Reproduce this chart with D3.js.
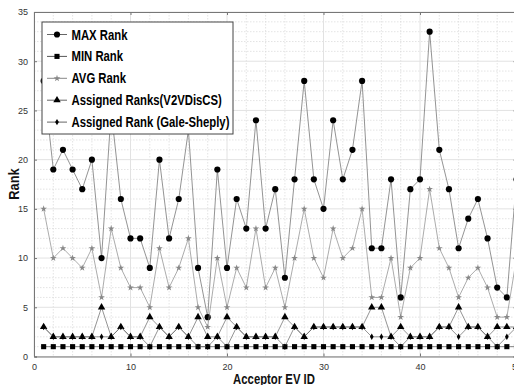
<!DOCTYPE html>
<html>
<head>
<meta charset="utf-8">
<script src="https://cdn.jsdelivr.net/npm/d3@7"></script>
<style>
  body { margin: 0; background: #fff; }
  svg { display: block; }
  .tick text { font-family: "Liberation Sans", Arial, sans-serif; font-size: 9px; fill: #333; }
</style>
</head>
<body>
<svg id="chart" width="514" height="385"></svg>
<script>
// acceptor EV ids (x axis)
const evIds = [1,2,3,4,5,6,7,8,9,10,11,12,13,14,15,16,17,18,19,20,21,22,23,24,25,
  26,27,28,29,30,31,32,33,34,35,36,37,38,39,40,41,42,43,44,45,46,47,48,49,50];

const maxRank = [28,19,21,19,17,20,10,25,16,12,12,9,20,12,16,23,9,4,19,9,16,13,24,13,17,
  8,18,28,18,15,24,18,21,28,11,11,18,6,17,18,33,21,17,11,14,16,12,7,6,18];

const minRank = [1,1,1,1,1,1,1,1,1,1,1,1,1,1,1,1,1,1,1,1,1,1,1,1,1,
  1,1,1,1,1,1,1,1,1,1,1,1,1,1,1,1,1,1,1,1,1,1,1,1,1];

const avgRank = [15,10,11,10,9,11,6,13,9,7,7,5,11,7,9,12,5,3,10,5,9,7,13,7,9,
  5,10,15,10,8,13,10,11,15,6,6,10,4,9,10,17,11,9,6,8,9,7,4,4,10];

const v2vRank = [3,2,2,2,2,2,5,2,3,2,2,4,3,2,3,2,4,2,2,4,3,2,2,2,2,
  4,3,2,3,3,3,3,3,3,5,5,2,3,2,2,2,3,3,5,3,3,2,3,3,3];

const galeRank = [3,2,2,2,2,2,2,2,3,2,2,1,3,2,3,2,1,1,2,1,3,2,2,2,2,
  1,3,2,3,3,3,3,3,3,2,2,2,1,2,2,2,3,3,2,3,3,2,1,2,3];

const xTicks = [0,10,20,30,40,50];
const yTicks = [0,5,10,15,20,25,30,35];

const seriesList = [
  { name: 'MAX Rank', values: maxRank, shape: 'circle', color: '#000', line: '#666' },
  { name: 'MIN Rank', values: minRank, shape: 'square', color: '#000', line: '#555' },
  { name: 'AVG Rank', values: avgRank, shape: 'star', color: '#888', line: '#888' },
  { name: 'Assigned Ranks(V2VDisCS)', values: v2vRank, shape: 'triangle', color: '#000', line: '#666' },
  { name: 'Assigned Rank (Gale-Sheply)', values: galeRank, shape: 'diamond', color: '#000', line: '#666' }
];

const svg = d3.select('#chart');
const pLeft = 34, pRight = 516.5, pTop = 12, pBottom = 356.5;
const narrow = 0.81; // condensed bold look of the original labels
const labelFont = '"Liberation Sans", Arial, sans-serif';

const x = d3.scaleLinear().domain([0, 50]).range([pLeft, pRight]);
const y = d3.scaleLinear().domain([0, 35]).range([pBottom, pTop]);

// grid: minor dotted, major solid
const grid = svg.append('g');
d3.range(0, 51, 2).filter(v => v % 10 !== 0).forEach(v => {
  grid.append('line').attr('x1', x(v)).attr('x2', x(v)).attr('y1', pTop).attr('y2', pBottom)
    .attr('stroke', '#d8d8d8').attr('stroke-width', 0.7).attr('stroke-dasharray', '1.5,1.5');
});
d3.range(0, 36, 1).filter(v => v % 5 !== 0).forEach(v => {
  grid.append('line').attr('x1', pLeft).attr('x2', pRight).attr('y1', y(v)).attr('y2', y(v))
    .attr('stroke', '#d8d8d8').attr('stroke-width', 0.7).attr('stroke-dasharray', '1.5,1.5');
});
xTicks.forEach(v => {
  grid.append('line').attr('x1', x(v)).attr('x2', x(v)).attr('y1', pTop).attr('y2', pBottom)
    .attr('stroke', '#e2e2e2').attr('stroke-width', 1);
});
yTicks.forEach(v => {
  grid.append('line').attr('x1', pLeft).attr('x2', pRight).attr('y1', y(v)).attr('y2', y(v))
    .attr('stroke', '#e2e2e2').attr('stroke-width', 1);
});

// axes
const xAxis = svg.append('g').attr('transform', `translate(0,${pBottom})`)
  .call(d3.axisBottom(x).tickValues(xTicks).tickSize(-3).tickPadding(7));
const xAxisTop = svg.append('g').attr('transform', `translate(0,${pTop})`)
  .call(d3.axisTop(x).tickValues(xTicks).tickSize(-3).tickFormat(''));
const yAxis = svg.append('g').attr('transform', `translate(${pLeft},0)`)
  .call(d3.axisLeft(y).tickValues(yTicks).tickSize(-3).tickPadding(6));
const yAxisRight = svg.append('g').attr('transform', `translate(${pRight},0)`)
  .call(d3.axisRight(y).tickValues(yTicks).tickSize(-3).tickFormat(''));

[xAxis, xAxisTop, yAxis, yAxisRight].forEach(a => {
  a.select('.domain').attr('stroke', '#777').attr('stroke-width', 1);
  a.selectAll('.tick line').attr('stroke', '#777');
});

// series
const symbolOf = {
  circle: d3.symbol().type(d3.symbolCircle).size(30),
  square: d3.symbol().type(d3.symbolSquare).size(26),
  star: d3.symbol().type(d3.symbolStar).size(14),
  triangle: d3.symbol().type(d3.symbolTriangle).size(24),
  diamond: d3.symbol().type(d3.symbolDiamond).size(12)
};

const lineGen = d3.line().x(d => x(d[0])).y(d => y(d[1]));

seriesList.forEach(s => {
  const pts = evIds.map((id, i) => [id, s.values[i]]);
  svg.append('path').datum(pts)
    .attr('d', lineGen)
    .attr('fill', 'none')
    .attr('stroke', s.line)
    .attr('stroke-width', 0.7);
  svg.append('g').selectAll('path')
    .data(pts).enter().append('path')
    .attr('transform', d => `translate(${x(d[0])},${y(d[1])})`)
    .attr('d', symbolOf[s.shape])
    .attr('fill', s.color);
});

// legend
const lg = svg.append('g');
lg.append('rect').attr('x', 42).attr('y', 22).attr('width', 191).attr('height', 112)
  .attr('fill', '#fff').attr('stroke', '#444').attr('stroke-width', 1);
seriesList.forEach((s, i) => {
  const ly = 34.5 + i * 21.9;
  lg.append('line').attr('x1', 47).attr('x2', 67).attr('y1', ly).attr('y2', ly)
    .attr('stroke', s.line).attr('stroke-width', 1);
  lg.append('path').attr('transform', `translate(57,${ly})`)
    .attr('d', symbolOf[s.shape]).attr('fill', s.color);
  lg.append('text').attr('transform', `translate(71.5,${ly + 5}) scale(${narrow},1)`)
    .attr('font-family', labelFont)
    .attr('font-weight', 'bold').attr('font-size', 14).attr('fill', '#000')
    .text(s.name);
});

// axis titles
svg.append('text').attr('transform', `translate(274,384) scale(${narrow},1)`)
  .attr('text-anchor', 'middle')
  .attr('font-family', labelFont)
  .attr('font-weight', 'bold').attr('font-size', 14).attr('fill', '#111')
  .text('Acceptor EV ID');

svg.append('text').attr('transform', `translate(19,184) rotate(-90) scale(0.86,1)`)
  .attr('text-anchor', 'middle')
  .attr('font-family', labelFont)
  .attr('font-weight', 'bold').attr('font-size', 15).attr('fill', '#111')
  .text('Rank');
</script>
</body>
</html>
